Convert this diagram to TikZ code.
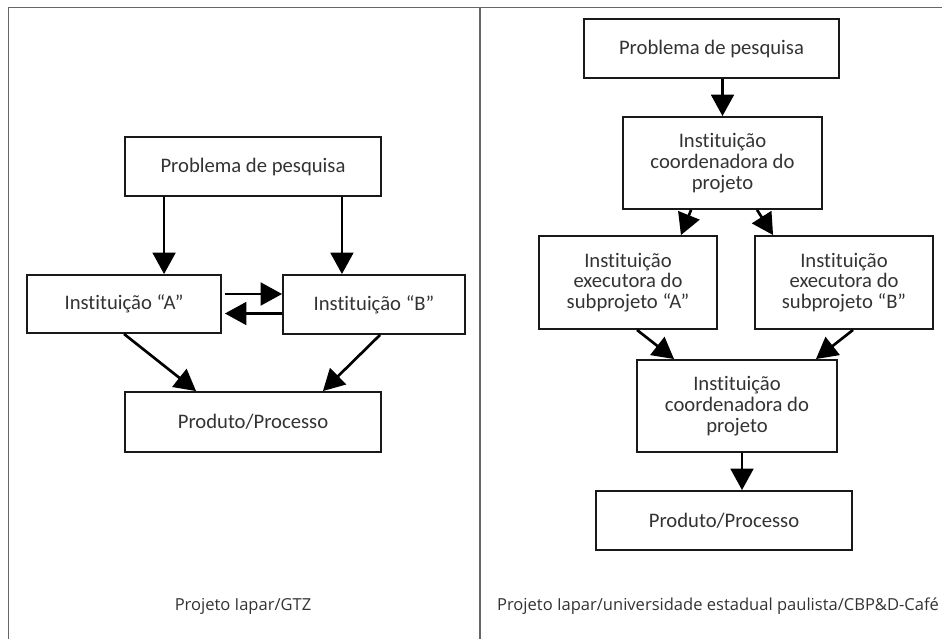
\documentclass[tikz,border=0pt]{standalone}
\usepackage{fontspec}
\setmainfont{Carlito}[Ligatures={NoCommon}]
\newfontfamily\capfont{Open Sans}
\usetikzlibrary{arrows.meta,positioning}

\definecolor{inkgray}{HTML}{333333}
\definecolor{rulegray}{HTML}{666666}

\tikzset{
  box/.style={draw=black!90,line width=1.4pt,align=center,inner sep=0pt,
    font=\fontsize{15.5pt}{15.5pt}\selectfont,text=inkgray},
  flow/.style={line width=2pt,-{Triangle[length=16pt,width=17pt]}},
  panel/.style={draw=rulegray,line width=1.3pt},
  legend/.style={font=\capfont\fontsize{12.4pt}{14pt}\selectfont,text=inkgray}
}

\begin{document}
\begin{tikzpicture}[x=0.75pt,y=-0.75pt]
		\useasboundingbox (0,0) rectangle (942,639);
		\draw[panel] (8.5,639)--(8.5,7.5)--(942,7.5);
		\draw[panel] (480,7.5)--(480,639);
		%
		% left panel
		\node[box,minimum width=192pt,minimum height=44.25pt] (prob) at (253,166.5) {Problema de pesquisa};
		\node[box,minimum width=145.5pt,minimum height=43.5pt] (instA) at (124,304) {Instituição “A”};
		\node[box,minimum width=136.5pt,minimum height=44.25pt] (instB) at (374,304.5) {Instituição “B”};
		\node[box,minimum width=192pt,minimum height=45pt] (prod) at (253,422) {Produto/Processo};
		\node[legend] (capL) at (243,606) {Projeto Iapar/GTZ};
		%
		\draw[flow] ([xshift=30pt]prob.south west)--([xshift=30pt]prob.south west |- instA.north);
		\draw[flow] ([xshift=-30pt]prob.south east)--([xshift=-30pt]prob.south east |- instB.north);
		\draw[flow] ([xshift=2.25pt,yshift=7.5pt]instA.east)--([yshift=7.5pt]instA.east -| instB.west);
		\draw[flow] ([yshift=-6.75pt]instB.west)--([xshift=2.25pt,yshift=-6.75pt]instB.west -| instA.east);
		\draw[flow] (instA.south)--([xshift=54pt]prod.north west);
		\draw[flow] ([xshift=4.5pt]instB.south)--([xshift=-44.25pt]prod.north east);
		%
		% right panel
		\node[box,minimum width=191.25pt,minimum height=44.25pt] (probR) at (711.5,48.5) {Problema de pesquisa};
		\node[box,minimum width=149.25pt,minimum height=69pt] (coordA) at (722.5,163) {Instituição\\coordenadora do\\projeto};
		\node[box,minimum width=133.5pt,minimum height=69.75pt] (execA) at (628,282.5) {Instituição\\executora do\\subprojeto “A”};
		\node[box,minimum width=133.5pt,minimum height=69.75pt] (execB) at (844,282.5) {Instituição\\executora do\\subprojeto “B”};
		\node[box,minimum width=150pt,minimum height=69pt] (coordB) at (737,406) {Instituição\\coordenadora do\\projeto};
		\node[box,minimum width=192pt,minimum height=44.25pt] (prodR) at (724,520.5) {Produto/Processo};
		\node[legend] (capR) at (718,606) {Projeto Iapar/universidade estadual paulista/CBP\&D-Café};
		%
		\draw[flow] (coordA.north |- probR.south)--(coordA.north);
		\draw[flow] ([xshift=51.75pt]coordA.south west)--([xshift=-27.75pt]execA.north east);
		\draw[flow] ([xshift=101.25pt]coordA.south west)--([xshift=14.25pt]execB.north west);
		\draw[flow] ([xshift=6.75pt]execA.south)--([xshift=28.5pt]coordB.north west);
		\draw[flow] ([xshift=6.75pt]execB.south)--([xshift=-16.5pt]coordB.north east);
		\draw[flow] ([xshift=3.75pt]coordB.south)--([xshift=3.75pt]coordB.south |- prodR.north);
	\end{tikzpicture}
\end{document}
